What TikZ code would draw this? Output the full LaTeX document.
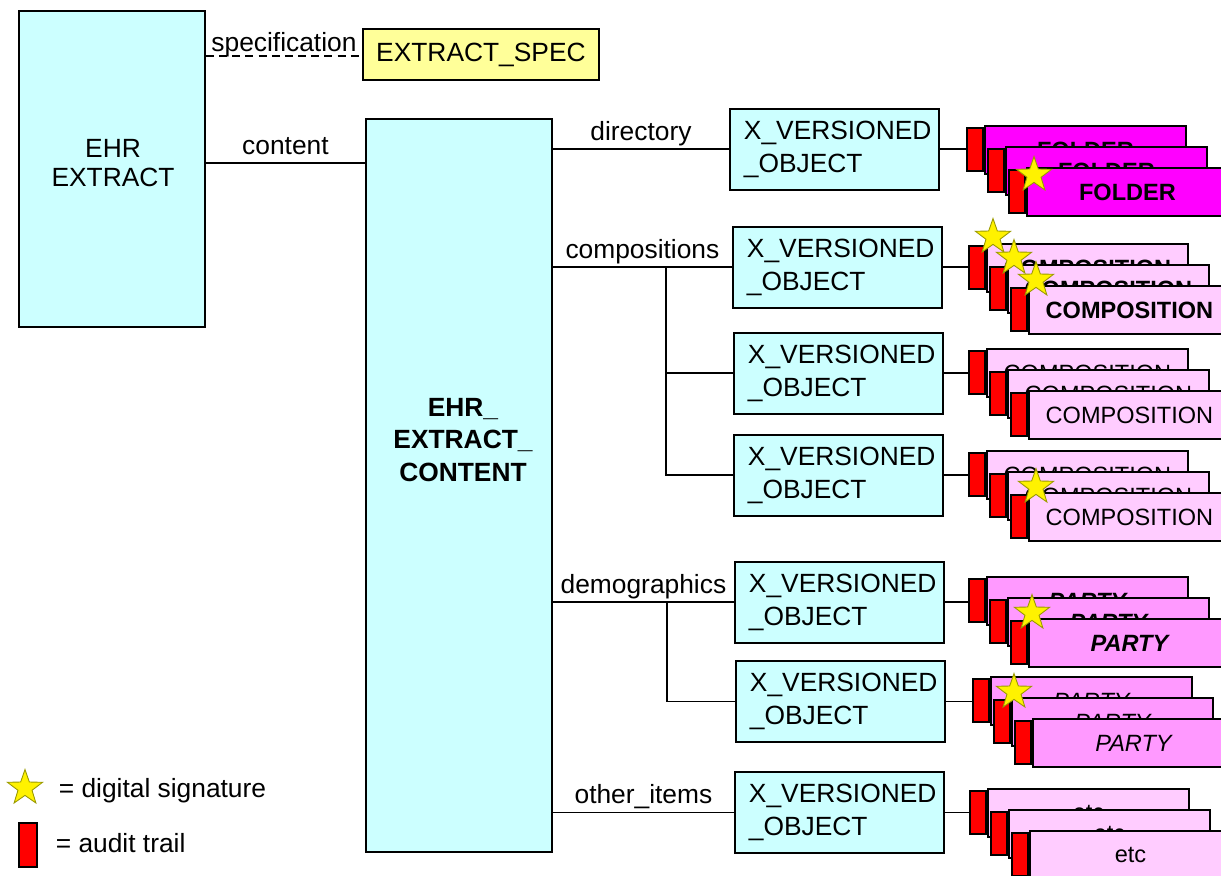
\documentclass[tikz,border=0pt]{standalone}
\usepackage{fontspec}
\setmainfont{Liberation Sans}
\usetikzlibrary{positioning,shapes.geometric}

\definecolor{clscyan}{HTML}{CCFFFF}
\definecolor{specyellow}{HTML}{FFFF99}
\definecolor{foldermag}{HTML}{FF00FF}
\definecolor{comppink}{HTML}{FFCCFF}
\definecolor{partypink}{HTML}{FF99FF}
\definecolor{sigedge}{HTML}{999900}

\begin{document}
\begin{tikzpicture}[x=0.02cm, y=-0.02cm, line width=1.1pt,
  cls/.style={draw, fill=clscyan, inner sep=0pt, align=center, font=\fontsize{15}{18.5}\selectfont},
  vo/.style={draw, fill=clscyan, align=left, text width=3.62cm, inner xsep=0.28cm, inner ysep=0pt,
    minimum height=1.62cm, anchor=north west, font=\fontsize{15}{18.5}\selectfont},
  card/.style={draw, inner sep=0pt, minimum width=4.02cm, minimum height=0.96cm, anchor=north west},
  trail/.style={draw, fill=red, inner sep=0pt, minimum width=0.32cm, minimum height=0.86cm},
  sig/.style={star, star points=5, star point ratio=2.5, fill=yellow, draw=sigedge,
    line width=0.5pt, minimum size=0.74cm, inner sep=0pt},
  lbl/.style={anchor=base, yshift=5pt, font=\fontsize{15}{18}\selectfont}]

\useasboundingbox (0,0) rectangle (1221,876);

\def\reclayer#1#2#3#4#5#6{%
  \node[trail, anchor=north east] (#1r) at (#2,#3+2) {};
  \node[card, fill=#4, font=\fontsize{13.4}{16}\selectfont#5] (#1) at (#2,#3) {#6};}

\def\recstack#1#2#3#4#5#6{%
  \reclayer{#1a}{#2}{#3}{#4}{#5}{#6}
  \reclayer{#1b}{#2+21}{#3+21}{#4}{#5}{#6}
  \reclayer{#1c}{#2+42}{#3+42}{#4}{#5}{#6}}

% left part
\node[cls, anchor=north west, minimum width=3.72cm, minimum height=6.32cm] (extract) at (18,10) {};
\node[align=center, font=\fontsize{15}{17}\selectfont] (extracttxt) at (113,163) {EHR\\EXTRACT};
\node[cls, fill=specyellow, anchor=north west, minimum width=4.72cm, minimum height=1.02cm] (spec) at (362,28) {EXTRACT\_SPEC};
\node[cls, anchor=north west, minimum width=3.72cm, minimum height=14.66cm] (content) at (365,118) {};
\node[align=center, font=\fontsize{15}{18.7}\selectfont\bfseries] (contenttxt) at (463,440) {EHR\_\\EXTRACT\_\\CONTENT};

\draw[dash pattern=on 4.5pt off 3pt] ([yshift=-0.04cm]extract.east |- spec.west) -- node[lbl, yshift=-2pt] {specification} ([yshift=-0.04cm]spec.west);
\draw ([yshift=0.12cm]extract.east) -- node[lbl] {content} ([yshift=0.12cm]extract.east -| content.west);

% versioned objects
\node[vo] (vo1) at (729,108) {X\_VERSIONED\\\_OBJECT};
\node[vo] (vo2) at (732,226) {X\_VERSIONED\\\_OBJECT};
\node[vo] (vo3) at (733,332) {X\_VERSIONED\\\_OBJECT};
\node[vo] (vo4) at (733,434) {X\_VERSIONED\\\_OBJECT};
\node[vo] (vo5) at (734,561) {X\_VERSIONED\\\_OBJECT};
\node[vo] (vo6) at (735,660) {X\_VERSIONED\\\_OBJECT};
\node[vo] (vo7) at (734,771) {X\_VERSIONED\\\_OBJECT};

\draw (content.east |- vo1.west) -- node[lbl] {directory} (vo1.west);
\draw (content.east |- vo2.west) -- node[lbl] {compositions} (vo2.west);
\draw (content.east |- vo5.west) -- node[lbl] {demographics} (vo5.west);
\draw (content.east |- vo7.west) -- node[lbl] {other\_items} (vo7.west);

\coordinate (cbr) at (666,266.5);
\coordinate (dbr) at (667,601.5);
\draw (cbr) |- (vo3.west);
\draw (cbr) |- (vo4.west);
\draw (dbr) |- (vo6.west);

% stacks of versions
\recstack{fold}{984}{125}{foldermag}{\bfseries}{FOLDER}
\recstack{compa}{986}{243}{comppink}{\bfseries}{COMPOSITION}
\recstack{compb}{986}{348}{comppink}{}{COMPOSITION}
\recstack{compc}{986}{450}{comppink}{}{COMPOSITION}
\recstack{partya}{986}{576}{partypink}{\bfseries\itshape}{PARTY}
\recstack{partyb}{990}{676}{partypink}{\itshape}{PARTY}
\recstack{etc}{987}{788}{comppink}{}{etc}

\draw (vo1.east) -- (vo1.east -| foldar.west);
\draw (vo2.east) -- (vo2.east -| compaar.west);
\draw (vo3.east) -- (vo3.east -| compbar.west);
\draw (vo4.east) -- (vo4.east -| compcar.west);
\draw (vo5.east) -- (vo5.east -| partyaar.west);
\draw (vo6.east) -- (vo6.east -| partybar.west);
\draw (vo7.east) -- (vo7.east -| etcar.west);

% signatures
\node[sig] (sigfold) at (1034,175) {};
\node[sig] (sigcompa) at (993,237) {};
\node[sig] (sigcompb) at (1014,258) {};
\node[sig] (sigcompc) at (1036,280) {};
\node[sig] (sigcompd) at (1036,487) {};
\node[sig] (sigpartya) at (1032,613) {};
\node[sig] (sigpartyb) at (1014,692) {};

% legend
\node[sig] (legsig) at (25,788) {};
\node[anchor=west, font=\fontsize{15}{18}\selectfont] (legsigtxt) at (52,791) {= digital signature};
\node[trail, anchor=north west, minimum width=0.36cm, minimum height=0.88cm] (legtrail) at (18,822) {};
\node[anchor=west, font=\fontsize{15}{18}\selectfont] (legtrailtxt) at (49,843) {= audit trail};

\end{tikzpicture}
\end{document}
